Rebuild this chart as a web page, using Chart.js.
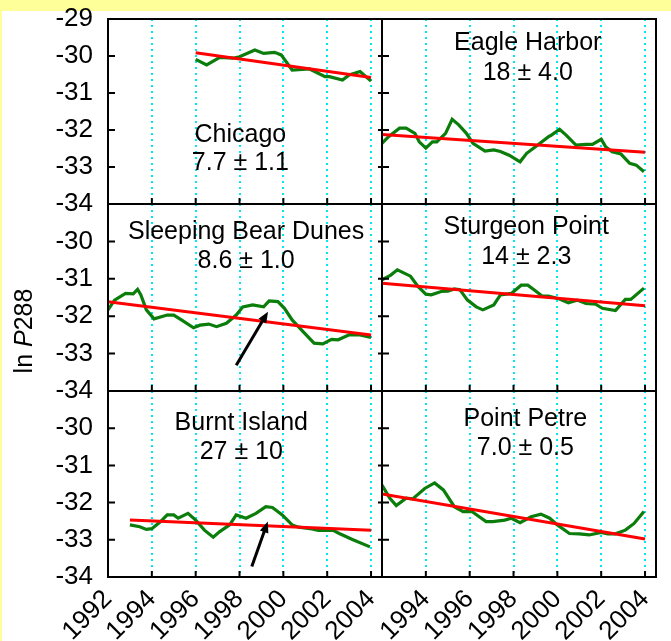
<!DOCTYPE html>
<html>
<head>
<meta charset="utf-8">
<script src="https://cdn.jsdelivr.net/npm/chart.js@4.4.0/dist/chart.umd.min.js"></script>
<style>
  html, body { margin: 0; padding: 0; }
  body { width: 671px; height: 641px; background: #ffff99; position: relative; overflow: hidden; }
  #paper { position: absolute; left: 2px; top: 11px; right: 0; bottom: 0; background: #fff; }
  canvas { position: absolute; left: 0; top: 0; }
</style>
</head>
<body>
<div id="paper"></div>
<canvas id="c0" width="671" height="641"></canvas>
<canvas id="c1" width="671" height="641"></canvas>
<canvas id="c2" width="671" height="641"></canvas>
<canvas id="c3" width="671" height="641"></canvas>
<canvas id="c4" width="671" height="641"></canvas>
<canvas id="c5" width="671" height="641"></canvas>
<script>
// axes
const yearMin = 1992, yearMax = 2004.5, yearStep = 2;
const lnMin = -34, lnMax = -29, lnStep = 1;

// Chicago
const chicagoYears = [1996.0, 1996.5, 1997.1, 1997.7, 1998.0, 1998.7, 1999.1, 1999.6, 1999.9, 2000.4, 2001.2, 2001.9, 2002.1, 2002.7, 2003.0, 2003.5, 2004.0];
const chicagoVals = [-30.09, -30.24, -30.04, -30.06, -30.02, -29.84, -29.93, -29.90, -29.97, -30.38, -30.35, -30.56, -30.56, -30.65, -30.51, -30.42, -30.68];
const chicagoTrendYears = [1996, 2004];
const chicagoTrendVals = [-29.91, -30.58];

// Eagle Harbor
const eagleYears = [1992.0, 1992.3, 1992.8, 1993.1, 1993.5, 1993.7, 1994.0, 1994.3, 1994.5, 1994.9, 1995.2, 1995.5, 1995.85, 1996.15, 1996.7, 1997.1, 1997.4, 1997.8, 1998.3, 1998.6, 1999.0, 1999.6, 1999.7, 2000.1, 2000.4, 2000.85, 2001.3, 2001.6, 2002.0, 2002.2, 2002.5, 2002.9, 2003.3, 2003.6, 2003.95];
const eagleVals = [-32.36, -32.18, -31.95, -31.95, -32.09, -32.32, -32.49, -32.32, -32.32, -32.09, -31.71, -31.86, -32.09, -32.36, -32.57, -32.54, -32.58, -32.68, -32.86, -32.63, -32.45, -32.18, -32.15, -31.98, -32.14, -32.41, -32.39, -32.39, -32.25, -32.45, -32.59, -32.65, -32.90, -32.95, -33.13];
const eagleTrendYears = [1992, 2004];
const eagleTrendVals = [-32.12, -32.60];

// Sleeping Bear Dunes
const bearYears = [1992.0, 1992.3, 1992.8, 1993.15, 1993.35, 1993.5, 1993.75, 1994.1, 1994.7, 1995.0, 1995.35, 1995.9, 1996.2, 1996.6, 1996.95, 1997.4, 1997.85, 1998.15, 1998.6, 1999.1, 1999.35, 1999.75, 2000.05, 2000.4, 2000.9, 2001.4, 2001.8, 2002.2, 2002.5, 2003.0, 2003.5, 2004.0];
const bearVals = [-31.83, -31.57, -31.39, -31.40, -31.28, -31.43, -31.83, -32.07, -31.97, -31.97, -32.10, -32.31, -32.24, -32.21, -32.28, -32.19, -31.97, -31.75, -31.70, -31.75, -31.59, -31.61, -31.79, -32.10, -32.41, -32.72, -32.74, -32.62, -32.63, -32.50, -32.50, -32.57];
const bearTrendYears = [1992, 2004];
const bearTrendVals = [-31.61, -32.50];
const bearArrowYears = [1997.85, 1999.3];
const bearArrowVals = [-33.31, -31.88];

// Sturgeon Point
const sturgeonYears = [1992.0, 1992.4, 1992.7, 1993.3, 1993.65, 1994.0, 1994.25, 1994.7, 1995.0, 1995.3, 1995.55, 1995.9, 1996.3, 1996.6, 1997.1, 1997.4, 1997.9, 1998.35, 1998.65, 1998.95, 1999.3, 1999.6, 2000.1, 2000.5, 2000.9, 2001.3, 2001.75, 2002.05, 2002.65, 2003.1, 2003.35, 2003.95];
const sturgeonVals = [-31.03, -30.90, -30.76, -30.93, -31.21, -31.41, -31.43, -31.34, -31.33, -31.27, -31.29, -31.57, -31.75, -31.83, -31.70, -31.43, -31.39, -31.17, -31.17, -31.30, -31.46, -31.46, -31.54, -31.64, -31.57, -31.66, -31.68, -31.79, -31.85, -31.55, -31.55, -31.25];
const sturgeonTrendYears = [1992, 2004];
const sturgeonTrendVals = [-31.12, -31.72];

// Burnt Island
const burntYears = [1993.0, 1993.45, 1993.75, 1994.0, 1994.4, 1994.7, 1995.0, 1995.2, 1995.65, 1996.0, 1996.4, 1996.8, 1997.1, 1997.55, 1997.85, 1998.3, 1998.75, 1999.2, 1999.5, 1999.95, 2000.4, 2000.7, 2001.3, 2001.6, 2002.25, 2002.55, 2003.15, 2003.95];
const burntVals = [-32.60, -32.65, -32.72, -32.70, -32.51, -32.33, -32.33, -32.42, -32.29, -32.47, -32.74, -32.93, -32.78, -32.60, -32.33, -32.42, -32.29, -32.11, -32.13, -32.33, -32.60, -32.66, -32.71, -32.75, -32.74, -32.83, -32.99, -33.19];
const burntTrendYears = [1993, 2004];
const burntTrendVals = [-32.47, -32.74];
const burntArrowYears = [1998.56, 1999.29];
const burntArrowVals = [-33.72, -32.51];

// Point Petre
const petreYears = [1992.0, 1992.35, 1992.65, 1993.1, 1993.4, 1993.95, 1994.4, 1994.8, 1995.3, 1995.7, 1996.1, 1996.75, 1997.05, 1997.6, 1997.9, 1998.3, 1998.8, 1999.25, 1999.65, 2000.0, 2000.55, 2001.0, 2001.45, 2002.0, 2002.3, 2002.65, 2003.1, 2003.5, 2003.95];
const petreVals = [-31.53, -31.88, -32.08, -31.88, -31.90, -31.62, -31.47, -31.66, -32.11, -32.24, -32.24, -32.51, -32.51, -32.47, -32.42, -32.54, -32.38, -32.31, -32.42, -32.60, -32.83, -32.84, -32.87, -32.80, -32.84, -32.84, -32.74, -32.56, -32.24];
const petreTrendYears = [1992, 2004];
const petreTrendVals = [-31.77, -32.98];

const siteNames = ['Chicago', 'Eagle Harbor', 'Sleeping Bear Dunes', 'Sturgeon Point', 'Burnt Island', 'Point Petre'];
const siteRates = ['7.7 \u00b1 1.1', '18 \u00b1 4.0', '8.6 \u00b1 1.0', '14 \u00b1 2.3', '27 \u00b1 10', '7.0 \u00b1 0.5'];

const sites = [
  { years: chicagoYears, vals: chicagoVals, tYears: chicagoTrendYears, tVals: chicagoTrendVals },
  { years: eagleYears, vals: eagleVals, tYears: eagleTrendYears, tVals: eagleTrendVals },
  { years: bearYears, vals: bearVals, tYears: bearTrendYears, tVals: bearTrendVals, aYears: bearArrowYears, aVals: bearArrowVals },
  { years: sturgeonYears, vals: sturgeonVals, tYears: sturgeonTrendYears, tVals: sturgeonTrendVals },
  { years: burntYears, vals: burntVals, tYears: burntTrendYears, tVals: burntTrendVals, aYears: burntArrowYears, aVals: burntArrowVals },
  { years: petreYears, vals: petreVals, tYears: petreTrendYears, tVals: petreTrendVals }
];

// layout (pixels) and label spots (in axis units)
const W = 671, H = 641;
const colLeft = [108, 382], colRight = [382, 656];
const rowTop = [19, 204, 391], rowBottom = [204, 391, 577];
const labelSpots = [
  [1998.04, -32.13, -32.89],
  [1998.65, -29.66, -30.45],
  [1998.3, -29.74, -30.52],
  [1998.58, -29.61, -30.41],
  [1998.08, -29.85, -30.63],
  [1998.54, -29.76, -30.54]
];

const FONT = "'Liberation Sans', Arial, sans-serif";
const green = '#0a7d0a', red = '#ff0000', cyan = '#00e8f0';
Chart.defaults.font.family = FONT;
Chart.defaults.font.size = 26;
Chart.defaults.color = '#000';

const framePlugin = {
  id: 'frame',
  afterDatasetsDraw(chart, args, opts) {
    const ctx = chart.ctx, a = chart.chartArea;
    const x = chart.scales.x, y = chart.scales.y;
    ctx.save();
    ctx.strokeStyle = '#000';
    ctx.lineWidth = 2;
    ctx.beginPath();
    x.ticks.forEach(t => {
      if (t.value <= yearMin) return;
      const px = x.getPixelForValue(t.value);
      ctx.moveTo(px, a.bottom);
      ctx.lineTo(px, a.bottom - 6);
    });
    y.ticks.forEach(t => {
      if (t.value <= lnMin || t.value >= lnMax) return;
      const py = y.getPixelForValue(t.value);
      ctx.moveTo(a.left - opts.tickOut, py);
      ctx.lineTo(a.left + 7, py);
    });
    ctx.stroke();
    ctx.strokeRect(a.left, a.top, a.width, a.height);

    // arrow
    if (opts.aYears) {
      const x0 = x.getPixelForValue(opts.aYears[0]), y0 = y.getPixelForValue(opts.aVals[0]);
      const x1 = x.getPixelForValue(opts.aYears[1]), y1 = y.getPixelForValue(opts.aVals[1]);
      const ang = Math.atan2(y1 - y0, x1 - x0);
      ctx.lineWidth = 3;
      ctx.beginPath();
      ctx.moveTo(x0, y0);
      ctx.lineTo(x1 - 8 * Math.cos(ang), y1 - 8 * Math.sin(ang));
      ctx.stroke();
      ctx.fillStyle = '#000';
      ctx.beginPath();
      ctx.moveTo(x1, y1);
      ctx.lineTo(x1 - 11 * Math.cos(ang) + 4.5 * Math.sin(ang), y1 - 11 * Math.sin(ang) - 4.5 * Math.cos(ang));
      ctx.lineTo(x1 - 11 * Math.cos(ang) - 4.5 * Math.sin(ang), y1 - 11 * Math.sin(ang) + 4.5 * Math.cos(ang));
      ctx.closePath();
      ctx.fill();
    }

    // site name and rate
    ctx.fillStyle = '#000';
    ctx.font = '25px ' + FONT;
    ctx.textAlign = 'center';
    ctx.textBaseline = 'middle';
    const s = opts.spot;
    ctx.fillText(opts.name, x.getPixelForValue(s[0]), y.getPixelForValue(s[1]));
    ctx.fillText(opts.rate, x.getPixelForValue(s[0]), y.getPixelForValue(s[2]));

    // y title, once
    if (opts.yTitle) {
      ctx.translate(32, 331);
      ctx.rotate(-Math.PI / 2);
      ctx.textAlign = 'left';
      ctx.textBaseline = 'alphabetic';
      const parts = [['ln ', ''], ['P', 'italic '], ['288', '']];
      let total = 0;
      parts.forEach(p => { ctx.font = p[1] + '25px ' + FONT; total += ctx.measureText(p[0]).width; });
      let cx = -total / 2;
      parts.forEach(p => {
        ctx.font = p[1] + '25px ' + FONT;
        ctx.fillText(p[0], cx, 0);
        cx += ctx.measureText(p[0]).width;
      });
    }
    ctx.restore();
  }
};

function makePanel(i) {
  const s = sites[i];
  const col = i % 2, row = Math.floor(i / 2);
  const left = colLeft[col], right = colRight[col], top = rowTop[row], bottom = rowBottom[row];

  new Chart(document.getElementById('c' + i), {
    type: 'line',
    data: {
      datasets: [
        { data: s.years.map((yr, k) => ({ x: yr, y: s.vals[k] })), borderColor: green, borderWidth: 3.2, pointRadius: 0, tension: 0, order: 2 },
        { data: s.tYears.map((yr, k) => ({ x: yr, y: s.tVals[k] })), borderColor: red, borderWidth: 3, pointRadius: 0, tension: 0, order: 1 }
      ]
    },
    options: {
      responsive: false,
      animation: false,
      events: [],
      layout: { padding: { left: 0, top: top, right: W - right, bottom: 0 } },
      plugins: {
        legend: { display: false },
        tooltip: { enabled: false },
        frame: {
          name: siteNames[i], rate: siteRates[i], spot: labelSpots[i],
          aYears: s.aYears, aVals: s.aVals,
          tickOut: col === 1 ? 4 : 0,
          yTitle: i === 2
        }
      },
      scales: {
        x: {
          type: 'linear',
          min: yearMin,
          max: yearMax,
          afterFit: sc => { sc.height = H - bottom; sc.paddingLeft = 0; sc.paddingRight = 0; },
          border: { display: false, dash: [2, 4] },
          grid: {
            color: c => (c.tick && c.tick.value > yearMin) ? cyan : 'rgba(0,0,0,0)',
            lineWidth: 2,
            drawTicks: false
          },
          ticks: {
            display: row === 2,
            stepSize: yearStep,
            includeBounds: false,
            autoSkip: false,
            minRotation: 45,
            maxRotation: 45,
            padding: 7,
            callback: v => (col === 1 && v === yearMin) ? '' : String(v)
          }
        },
        y: {
          min: lnMin,
          max: lnMax,
          afterFit: sc => { sc.width = left; sc.paddingTop = 0; sc.paddingBottom = 0; },
          border: { display: false },
          grid: { display: false, drawTicks: false },
          ticks: {
            display: col === 0,
            stepSize: lnStep,
            padding: 15,
            callback: v => (row > 0 && v === lnMax) ? '' : String(v)
          }
        }
      }
    },
    plugins: [framePlugin]
  });
}

for (let i = 0; i < 6; i++) makePanel(i);
</script>
</body>
</html>
